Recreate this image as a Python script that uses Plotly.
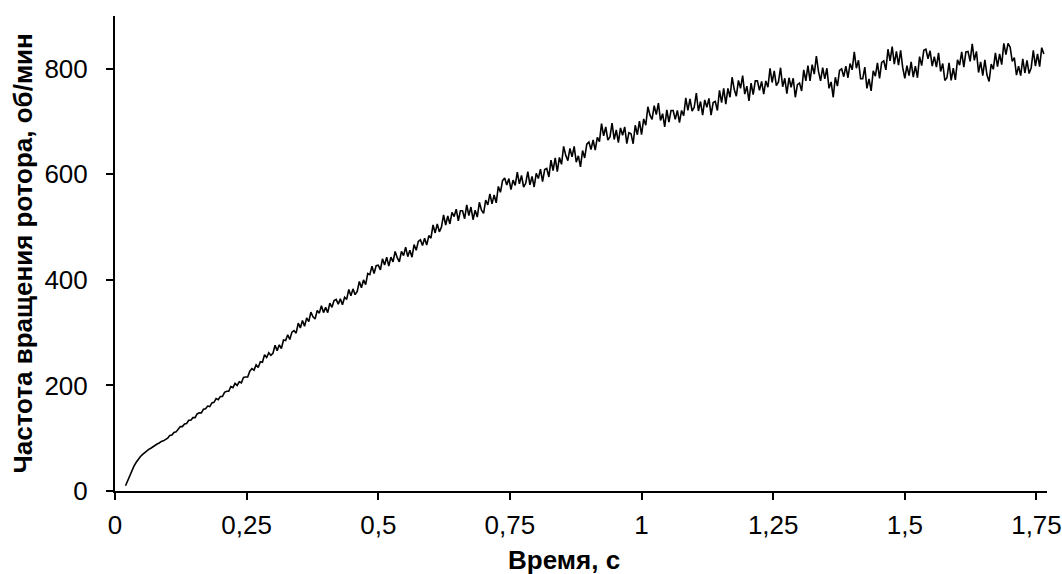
import plotly.graph_objects as go

# Sampling grid of the recorded signal (seconds)
T_START = 0.020
T_STEP = 0.004

# Rotor speed samples (rpm), one row per 0.04 s
speed_rows = [
    [10, 20, 30, 39, 47, 54, 60, 65, 69, 73],
    [76, 79, 81, 84, 86, 89, 91, 94, 95, 98],
    [100, 105, 106, 111, 112, 117, 122, 122, 127, 128],
    [134, 134, 139, 139, 146, 148, 148, 155, 156, 161],
    [160, 167, 168, 175, 173, 179, 179, 187, 189, 189],
    [198, 196, 204, 200, 207, 205, 215, 216, 216, 227],
    [232, 229, 239, 234, 245, 244, 258, 253, 262, 257],
    [261, 276, 266, 277, 270, 286, 285, 296, 287, 301],
    [304, 299, 318, 309, 323, 312, 328, 321, 339, 330],
    [326, 342, 337, 351, 338, 348, 338, 356, 348, 361],
    [363, 354, 364, 353, 367, 363, 382, 370, 383, 372],
    [378, 397, 385, 400, 391, 412, 410, 426, 412, 427],
    [428, 419, 440, 428, 443, 426, 443, 434, 454, 442],
    [434, 454, 446, 462, 444, 456, 443, 467, 456, 473],
    [476, 465, 479, 466, 484, 479, 504, 489, 506, 491],
    [500, 523, 504, 521, 506, 528, 520, 534, 512, 531],
    [531, 516, 542, 522, 538, 514, 532, 519, 547, 532],
    [526, 551, 542, 563, 544, 561, 546, 577, 566, 588],
    [593, 580, 592, 571, 589, 579, 604, 582, 598, 576],
    [583, 605, 580, 596, 576, 602, 592, 610, 586, 609],
    [611, 595, 627, 607, 631, 605, 632, 619, 653, 636],
    [626, 649, 633, 653, 623, 635, 614, 645, 631, 657],
    [661, 647, 665, 646, 670, 662, 696, 673, 690, 665],
    [671, 697, 666, 684, 660, 688, 674, 690, 658, 679],
    [677, 658, 693, 675, 701, 675, 705, 693, 728, 712],
    [704, 730, 713, 735, 702, 715, 690, 722, 699, 721],
    [721, 704, 721, 698, 721, 711, 745, 721, 743, 720],
    [727, 754, 720, 738, 712, 741, 727, 744, 712, 736],
    [738, 721, 759, 736, 763, 733, 763, 746, 784, 761],
    [748, 778, 763, 787, 752, 767, 739, 773, 751, 777],
    [777, 759, 776, 752, 777, 765, 801, 774, 796, 768],
    [775, 802, 766, 782, 753, 783, 765, 782, 746, 770],
    [773, 758, 798, 777, 806, 777, 808, 790, 824, 795],
    [777, 802, 781, 801, 763, 775, 746, 784, 767, 797],
    [800, 785, 805, 783, 810, 798, 832, 801, 816, 781],
    [781, 803, 763, 781, 758, 796, 786, 811, 782, 812],
    [815, 798, 837, 815, 842, 809, 833, 807, 835, 802],
    [782, 806, 787, 813, 784, 805, 783, 823, 806, 835],
    [837, 819, 834, 805, 823, 803, 830, 795, 810, 778],
    [783, 811, 778, 801, 779, 817, 807, 832, 803, 832],
    [833, 814, 847, 816, 833, 793, 813, 787, 817, 788],
    [776, 809, 799, 830, 804, 828, 808, 848, 827, 848],
    [841, 814, 821, 788, 805, 787, 819, 792, 816, 791],
    [802, 835, 805, 828, 804, 840, 828],
]

x_tick_vals = [0, 0.25, 0.5, 0.75, 1, 1.25, 1.5, 1.75]
x_tick_text = ["0", "0,25", "0,5", "0,75", "1", "1,25", "1,5", "1,75"]
y_tick_vals = [0, 200, 400, 600, 800]

speed = [v for row in speed_rows for v in row]
time = [round(T_START + T_STEP * i, 4) for i in range(len(speed))]

FONT = "Liberation Sans, Arial, sans-serif"
TICK_SIZE = 26
TITLE_SIZE = 26

fig = go.Figure()
fig.add_trace(go.Scatter(
    x=time, y=speed, mode="lines",
    line=dict(color="black", width=1.6),
    showlegend=False, hoverinfo="skip", cliponaxis=True,
))

axis_common = dict(
    showgrid=False, zeroline=False, automargin=False,
    showline=True, linecolor="black", linewidth=2,
    ticks="outside", ticklen=7, tickwidth=2, tickcolor="black",
    tickfont=dict(size=TICK_SIZE, family=FONT, color="black"),
)

fig.update_layout(
    width=1062, height=574,
    margin=dict(l=115, r=15, t=16, b=83),
    paper_bgcolor="white", plot_bgcolor="white",
    font=dict(family=FONT, color="black", size=TICK_SIZE),
    xaxis=dict(range=[0, 1.77], tickvals=x_tick_vals, ticktext=x_tick_text,
               ticklabelstandoff=3, **axis_common),
    yaxis=dict(range=[0, 900], tickvals=y_tick_vals,
               ticklabelstandoff=13, **axis_common),
    annotations=[
        dict(text="<b>Время, с</b>", xref="paper", yref="paper",
             x=0.482, y=0, yshift=-69, xanchor="center", yanchor="middle",
             showarrow=False, font=dict(size=TITLE_SIZE, family=FONT)),
        dict(text="<b>Частота вращения ротора, об/мин</b>", xref="paper", yref="paper",
             x=0, xshift=-93, y=0.5, textangle=-90, xanchor="center", yanchor="middle",
             showarrow=False, font=dict(size=TITLE_SIZE, family=FONT)),
    ],
)

fig.write_html(
    "out.html",
    config={"displayModeBar": False},
    post_script="document.body.style.margin='0';document.body.style.overflow='hidden';",
)
